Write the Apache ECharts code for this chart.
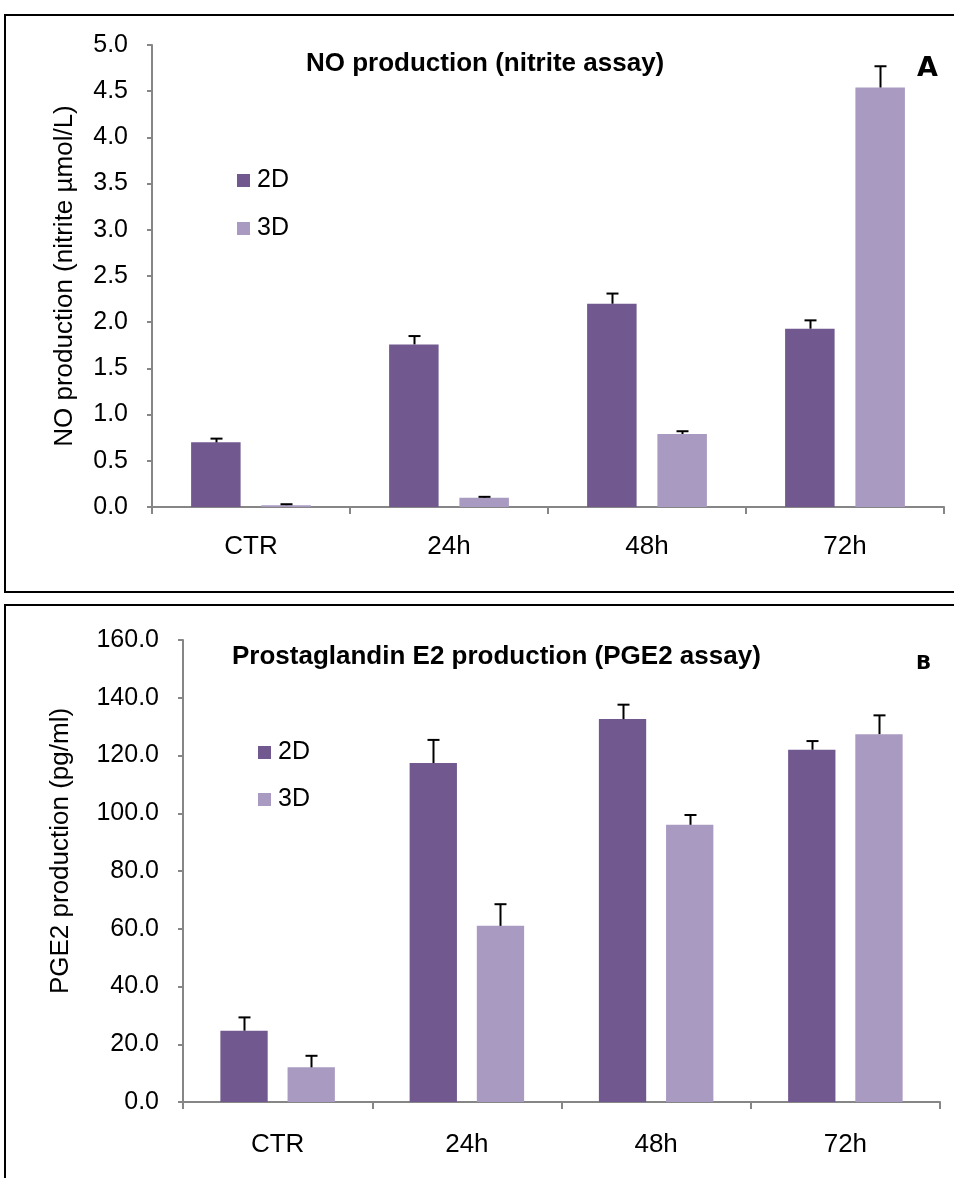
<!DOCTYPE html>
<html>
<head>
<meta charset="utf-8">
<script src="https://cdn.jsdelivr.net/npm/echarts@6/dist/echarts.min.js"></script>
<style>html,body{margin:0;padding:0;background:#fff}#c{width:954px;height:1178px}</style>
</head>
<body>
<div id="c"></div>
<script>
var categories = ['CTR', '24h', '48h', '72h'];
var seriesNames = ['2D', '3D'];
// Panel A: NO production (nitrite µmol/L)
var no2D = [0.70, 1.76, 2.20, 1.93];
var no3D = [0.02, 0.10, 0.79, 4.54];
var no2DErr = [0.04, 0.09, 0.11, 0.09];
var no3DErr = [0.01, 0.01, 0.03, 0.23];
// Panel B: PGE2 production (pg/ml)
var pge2D = [24.7, 117.4, 132.6, 122.0];
var pge3D = [12.0, 61.0, 96.0, 127.4];
var pge2DErr = [4.6, 8.0, 5.0, 3.0];
var pge3DErr = [4.0, 7.5, 3.4, 6.5];

var C2D = '#71598F', C3D = '#A99AC1';
var FONT = 'Liberation Sans, Arial, sans-serif';
var BW = 0.25, GAP = 0.42;

function errSeries(name, vals, errs, grid, side) {
  var data = vals.map(function (v, i) { return [i, v, v + errs[i]]; });
  return {
    type: 'custom', name: name, xAxisIndex: grid, yAxisIndex: grid, z: 5,
    data: data,
    renderItem: function (params, api) {
      var band = api.size([1, 0])[0];
      var off = side * band * BW * (1 + GAP) / 2;
      var p0 = api.coord([api.value(0), api.value(1)]);
      var p1 = api.coord([api.value(0), api.value(2)]);
      var x = Math.round(p0[0] + off) + 0.5;
      return {
        type: 'group', children: [
          { type: 'line', shape: { x1: x, y1: p0[1], x2: x, y2: p1[1] }, style: { stroke: '#000', lineWidth: 2 } },
          { type: 'line', shape: { x1: x - 6, y1: p1[1], x2: x + 6, y2: p1[1] }, style: { stroke: '#000', lineWidth: 2 } }
        ]
      };
    }
  };
}

function barSeries(name, vals, grid, color) {
  return {
    type: 'bar', name: name, xAxisIndex: grid, yAxisIndex: grid,
    data: vals, barWidth: (BW * 100) + '%', barGap: (GAP * 100) + '%',
    itemStyle: { color: color }
  };
}

var axisLineStyle = { color: '#868686', width: 2 };

function xAxis(grid, margin) {
  return {
    type: 'category', gridIndex: grid, data: categories,
    axisLine: { lineStyle: axisLineStyle },
    axisTick: { show: true, length: 7, lineStyle: axisLineStyle, alignWithLabel: false },
    axisLabel: { color: '#000', fontSize: 26, fontFamily: FONT, margin: margin },
    splitLine: { show: false }
  };
}

function yAxis(grid, max, interval, name, nameGap, margin, namePad) {
  return {
    type: 'value', gridIndex: grid, min: 0, max: max, interval: interval,
    name: name, nameLocation: 'middle', nameGap: nameGap,
    nameTextStyle: { color: '#000', fontSize: 26, fontFamily: FONT, padding: namePad },
    axisLine: { show: true, lineStyle: axisLineStyle },
    axisTick: { show: true, length: 5, lineStyle: axisLineStyle },
    axisLabel: { color: '#000', fontSize: 25, fontFamily: FONT, margin: margin,
      formatter: function (v) { return v.toFixed(1); } },
    splitLine: { show: false }
  };
}

function legend(top, left, gap) {
  return {
    data: seriesNames, orient: 'vertical', left: left, top: top,
    itemWidth: 13, itemHeight: 13, itemGap: gap, icon: 'rect',
    textStyle: { color: '#000', fontSize: 25, lineHeight: 25, fontFamily: FONT, padding: [0, 0, 0, 2] },
    selectedMode: false
  };
}

var chart = echarts.init(document.getElementById('c'), null, { renderer: 'canvas' });
chart.setOption({
  animation: false,
  backgroundColor: '#fff',
  title: [
    { text: 'NO production (nitrite assay)', left: 306, top: 51, padding: 0,
      textStyle: { fontSize: 26, fontWeight: 'bold', color: '#000', fontFamily: FONT } },
    { text: 'Prostaglandin E2 production (PGE2 assay)', left: 232, top: 644, padding: 0,
      textStyle: { fontSize: 26, fontWeight: 'bold', color: '#000', fontFamily: FONT } }
  ],
  legend: [legend(163, 232, 23), legend(735, 253, 22)],
  grid: [
    { left: 152, right: 10, top: 45, height: 462 },
    { left: 183, right: 14, top: 640, height: 462 }
  ],
  xAxis: [xAxis(0, 27), xAxis(1, 30)],
  yAxis: [
    yAxis(0, 5, 0.5, 'NO production (nitrite µmol/L)', 74, 24, [0, 0, 0, 0]),
    yAxis(1, 160, 20, 'PGE2 production (pg/ml)', 109, 24, [0, 0, 0, 40])
  ],
  series: [
    barSeries('2D', no2D, 0, C2D),
    barSeries('3D', no3D, 0, C3D),
    errSeries('e2D', no2D, no2DErr, 0, -1),
    errSeries('e3D', no3D, no3DErr, 0, 1),
    barSeries('2D', pge2D, 1, C2D),
    barSeries('3D', pge3D, 1, C3D),
    errSeries('pe2D', pge2D, pge2DErr, 1, -1),
    errSeries('pe3D', pge3D, pge3DErr, 1, 1)
  ],
  graphic: [
    { type: 'rect', shape: { x: 5, y: 15, width: 1000, height: 577 }, style: { fill: 'none', stroke: '#000', lineWidth: 2 }, silent: true },
    { type: 'rect', shape: { x: 5, y: 605, width: 1000, height: 620 }, style: { fill: 'none', stroke: '#000', lineWidth: 2 }, silent: true },
    { type: 'text', left: 917, top: 55, style: { text: 'A', fill: '#000', font: 'bold 27px "DejaVu Sans"' } },
    { type: 'text', left: 916, top: 654, style: { text: 'B', fill: '#000', font: 'bold 20px "DejaVu Sans"' } }
  ]
});
</script>
</body>
</html>
